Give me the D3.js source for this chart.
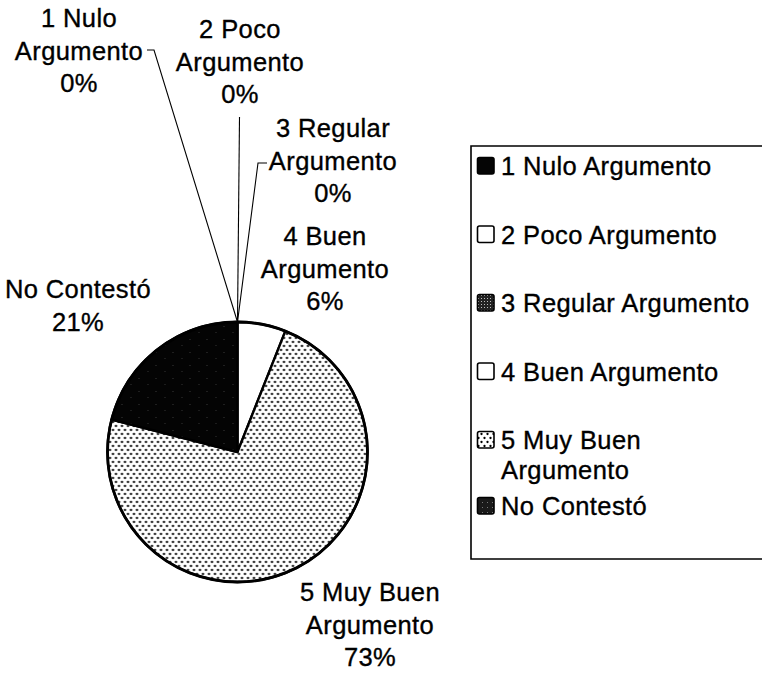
<!DOCTYPE html>
<html>
<head>
<meta charset="utf-8">
<script src="https://cdn.jsdelivr.net/npm/d3@7"></script>
<style>
  html, body { margin: 0; padding: 0; background: #fff; }
  svg { display: block; }
  text { font-family: "Liberation Sans", Arial, sans-serif; fill: #000; stroke: #000; stroke-width: 0.35px; letter-spacing: 0.4px; }
</style>
</head>
<body>
<svg id="chart" width="762" height="674"></svg>
<script>
// Respuestas por categoría (porcentajes)
const categories = ["1 Nulo Argumento", "2 Poco Argumento", "3 Regular Argumento",
                    "4 Buen Argumento", "5 Muy Buen Argumento", "No Contestó"];
const values = [0, 0, 0, 6, 73, 21];
// Etiquetas del gráfico (una entrada por línea)
const sliceLabelLines = [
  ["1 Nulo", "Argumento"],
  ["2 Poco", "Argumento"],
  ["3 Regular", "Argumento"],
  ["4 Buen", "Argumento"],
  ["5 Muy Buen", "Argumento"],
  ["No Contestó"]
];
const legendLines = [
  ["1 Nulo Argumento"],
  ["2 Poco Argumento"],
  ["3 Regular Argumento"],
  ["4 Buen Argumento"],
  ["5 Muy Buen", "Argumento"],
  ["No Contestó"]
];
const fills = ["url(#solidBlack)", "#fff", "url(#checker)", "#fff", "url(#dots)", "url(#darkSpeckle)"];
const swatchFills = ["url(#solidBlack)", "#fff", "url(#checker)", "#fff", "url(#dots)", "url(#legendSpeckle)"];

const svg = d3.select("#chart");
svg.append("rect").attr("width", 762).attr("height", 674).attr("fill", "#fff");

// ---- patterns ----
const defs = svg.append("defs");
defs.append("pattern").attr("id", "solidBlack").attr("width", 4).attr("height", 4)
  .attr("patternUnits", "userSpaceOnUse")
  .append("rect").attr("width", 4).attr("height", 4).attr("fill", "#050505");

const dots = defs.append("pattern").attr("id", "dots").attr("width", 6).attr("height", 8)
  .attr("patternUnits", "userSpaceOnUse");
dots.append("rect").attr("width", 6).attr("height", 8).attr("fill", "#fff");
dots.append("circle").attr("cx", 1.5).attr("cy", 2).attr("r", 1.15).attr("fill", "#000");
dots.append("circle").attr("cx", 4.5).attr("cy", 6).attr("r", 1.15).attr("fill", "#000");

const checker = defs.append("pattern").attr("id", "checker").attr("width", 3).attr("height", 3)
  .attr("patternUnits", "userSpaceOnUse");
checker.append("rect").attr("width", 3).attr("height", 3).attr("fill", "#222");
checker.append("rect").attr("x", 1).attr("y", 1).attr("width", 1).attr("height", 1).attr("fill", "#bbb");

const speckle = defs.append("pattern").attr("id", "darkSpeckle").attr("width", 17).attr("height", 13)
  .attr("patternUnits", "userSpaceOnUse");
speckle.append("rect").attr("width", 17).attr("height", 13).attr("fill", "#040404");
speckle.append("rect").attr("x", 3).attr("y", 4).attr("width", 1).attr("height", 1).attr("fill", "#3a3a3a");
speckle.append("rect").attr("x", 12).attr("y", 10).attr("width", 1).attr("height", 1).attr("fill", "#333");

const legSpeckle = defs.append("pattern").attr("id", "legendSpeckle").attr("width", 5).attr("height", 5)
  .attr("patternUnits", "userSpaceOnUse");
legSpeckle.append("rect").attr("width", 5).attr("height", 5).attr("fill", "#1a1a1a");
legSpeckle.append("rect").attr("x", 2).attr("y", 2).attr("width", 1).attr("height", 1).attr("fill", "#777");

// ---- pie ----
const cx = 237.5, cy = 452, R = 130;
const pie = d3.pie().sort(null).value(d => d)(values);
const arc = d3.arc().innerRadius(0).outerRadius(R);
const rimArc = d3.arc().innerRadius(R).outerRadius(R);

const g = svg.append("g").attr("transform", `translate(${cx},${cy})`);
g.selectAll("path.slice").data(pie).join("path")
  .attr("class", "slice")
  .attr("d", arc)
  .attr("fill", (d, i) => fills[i])
  .attr("stroke", "#000")
  .attr("stroke-width", 2.4)
  .attr("stroke-linejoin", "round");
g.append("circle").attr("r", R).attr("fill", "none").attr("stroke", "#000").attr("stroke-width", 2.8);

// ---- slice labels ----
const fs = 25.5, lh = 32.5;
// text anchor (x, first baseline) and optional leader start for each slice
const labelLayout = [
  { x: 79,  y: 27,  leader: [[147, 50], [154, 50]] },
  { x: 240, y: 38,  leader: [[239.5, 117]] },
  { x: 333, y: 137, leader: [[267, 163], [258, 163]] },
  { x: 325, y: 245, leader: null },
  { x: 370, y: 601, leader: null },
  { x: 78,  y: 298, leader: null }
];

pie.forEach((d, i) => {
  const L = labelLayout[i];
  const lines = sliceLabelLines[i].concat([d3.format(".0f")(d.data) + "%"]);
  const t = svg.append("text").attr("text-anchor", "middle").attr("font-size", fs);
  lines.forEach((s, k) => {
    t.append("tspan").attr("x", L.x).attr("y", L.y + k * lh).text(s);
  });
  if (L.leader) {
    const end = rimArc.centroid(d);
    const pts = L.leader.concat([[cx + end[0], cy + end[1]]]);
    svg.append("path")
      .attr("d", d3.line()(pts))
      .attr("fill", "none")
      .attr("stroke", "#000")
      .attr("stroke-width", 1.1);
  }
});

// ---- legend ----
const legX = 471, legTop = 146, legBottom = 559;
const lg = svg.append("g");
lg.append("path")
  .attr("d", `M762,${legTop}H${legX}V${legBottom}H762`)
  .attr("fill", "none").attr("stroke", "#000").attr("stroke-width", 1.6);

const rowBase = d3.scaleLinear().domain([0, 4]).range([175, 449]);
const legLh = 30;
categories.forEach((c, i) => {
  const base = i < 5 ? rowBase(i) : rowBase(4) + 66;
  lg.append("rect")
    .attr("x", 477.5).attr("y", base - 17.5)
    .attr("width", 16.5).attr("height", 16.5)
    .attr("rx", 2)
    .attr("fill", swatchFills[i])
    .attr("stroke", "#000").attr("stroke-width", 1.6);
  const t = lg.append("text").attr("font-size", fs);
  legendLines[i].forEach((s, k) => {
    t.append("tspan").attr("x", 501).attr("y", base + k * legLh).text(s);
  });
});
</script>
</body>
</html>
